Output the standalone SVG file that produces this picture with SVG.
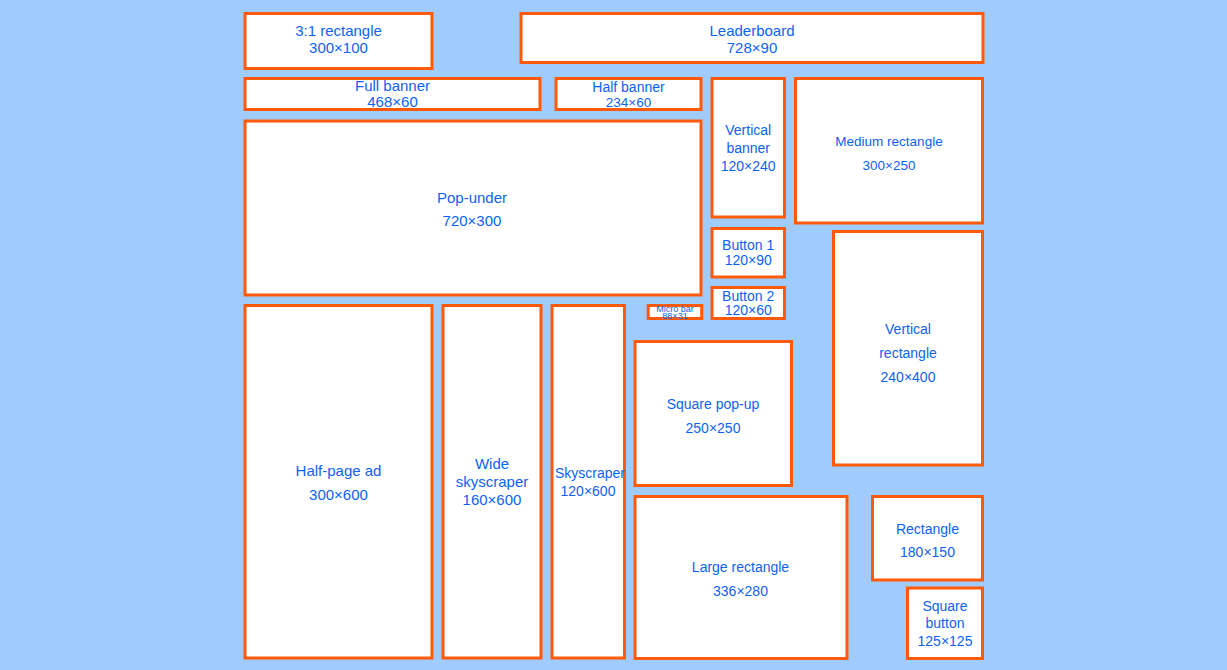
<svg xmlns="http://www.w3.org/2000/svg" width="1227" height="670" viewBox="0 0 1227 670">
<style>
.b{fill:#ffffff;stroke:#ff5a0a;stroke-width:3}
text{font-family:"Liberation Sans",Arial,sans-serif;fill:#0d63f2;text-anchor:middle}
.l{font-size:15px}
.m{font-size:14px}
.s{font-size:13.5px}
.xs{font-size:9px}
</style>
<rect x="0" y="0" width="1227" height="670" fill="#9fcbfd"/>
<g id="connectors"/>
<g id="n-31rect"><rect class="b" x="245" y="13.5" width="187" height="55"/><text class="l" x="338.5" y="35.5">3:1 rectangle</text><text class="l" x="338.5" y="52.5">300×100</text></g>
<g id="n-leaderboard"><rect class="b" x="521" y="13.5" width="462" height="49"/><text class="l" x="752" y="36">Leaderboard</text><text class="l" x="752" y="53">728×90</text></g>
<g id="n-fullbanner"><rect class="b" x="245" y="78.5" width="295" height="31"/><text class="l" x="392.5" y="91">Full banner</text><text class="l" x="392.5" y="106.5">468×60</text></g>
<g id="n-halfbanner"><rect class="b" x="556" y="78.5" width="145" height="31"/><text class="m" x="628.5" y="92">Half banner</text><text class="s" x="628.5" y="106.5">234×60</text></g>
<g id="n-vbanner"><rect class="b" x="712" y="78.5" width="72.5" height="138.5"/><text class="m" x="748.2" y="135">Vertical</text><text class="m" x="748.2" y="153">banner</text><text class="m" x="748.2" y="171">120×240</text></g>
<g id="n-medrect"><rect class="b" x="795.5" y="78.5" width="187" height="144.5"/><text class="s" x="889" y="146">Medium rectangle</text><text class="s" x="889" y="170">300×250</text></g>
<g id="n-popunder"><rect class="b" x="245" y="121" width="456" height="174"/><text class="l" x="472" y="202.7">Pop-under</text><text class="l" x="472" y="226">720×300</text></g>
<g id="n-button1"><rect class="b" x="712" y="228.5" width="72.5" height="48.5"/><text class="m" x="748.2" y="250">Button 1</text><text class="m" x="748.2" y="265">120×90</text></g>
<g id="n-button2"><rect class="b" x="712" y="287.5" width="72.5" height="31"/><text class="m" x="748.2" y="300.7">Button 2</text><text class="m" x="748.2" y="315">120×60</text></g>
<g id="n-microbar"><rect class="b" x="648.2" y="305.5" width="53.5" height="13"/><text class="xs" x="675" y="311.5">Micro bar</text><text class="xs" x="675" y="318.5">88×31</text></g>
<g id="n-vrect"><rect class="b" x="833.5" y="231.5" width="149" height="233.5"/><text class="m" x="908" y="334">Vertical</text><text class="m" x="908" y="358">rectangle</text><text class="m" x="908" y="382">240×400</text></g>
<g id="n-halfpage"><rect class="b" x="245" y="305.5" width="187" height="352.5"/><text class="l" x="338.5" y="476">Half-page ad</text><text class="l" x="338.5" y="500">300×600</text></g>
<g id="n-wideskyscraper"><rect class="b" x="443" y="305.5" width="98" height="352.5"/><text class="l" x="492" y="469">Wide</text><text class="l" x="492" y="487">skyscraper</text><text class="l" x="492" y="505">160×600</text></g>
<g id="n-skyscraper"><rect class="b" x="552" y="305.5" width="72.5" height="352.5"/><text class="m" x="590" y="478.3">Skyscraper</text><text class="m" x="588" y="496">120×600</text></g>
<g id="n-squarepopup"><rect class="b" x="635" y="341.5" width="156.5" height="144"/><text class="m" x="713" y="409">Square pop-up</text><text class="m" x="713" y="432.5">250×250</text></g>
<g id="n-largerect"><rect class="b" x="635" y="496.5" width="212" height="162"/><text class="m" x="740.5" y="572">Large rectangle</text><text class="m" x="740.5" y="596">336×280</text></g>
<g id="n-rectangle"><rect class="b" x="872.5" y="496.5" width="110" height="83.5"/><text class="m" x="927.5" y="533.5">Rectangle</text><text class="m" x="927.5" y="557">180×150</text></g>
<g id="n-squarebutton"><rect class="b" x="907.5" y="588" width="75" height="70.5"/><text class="m" x="945" y="610.5">Square</text><text class="m" x="945" y="628">button</text><text class="m" x="945" y="646">125×125</text></g>
</svg>
